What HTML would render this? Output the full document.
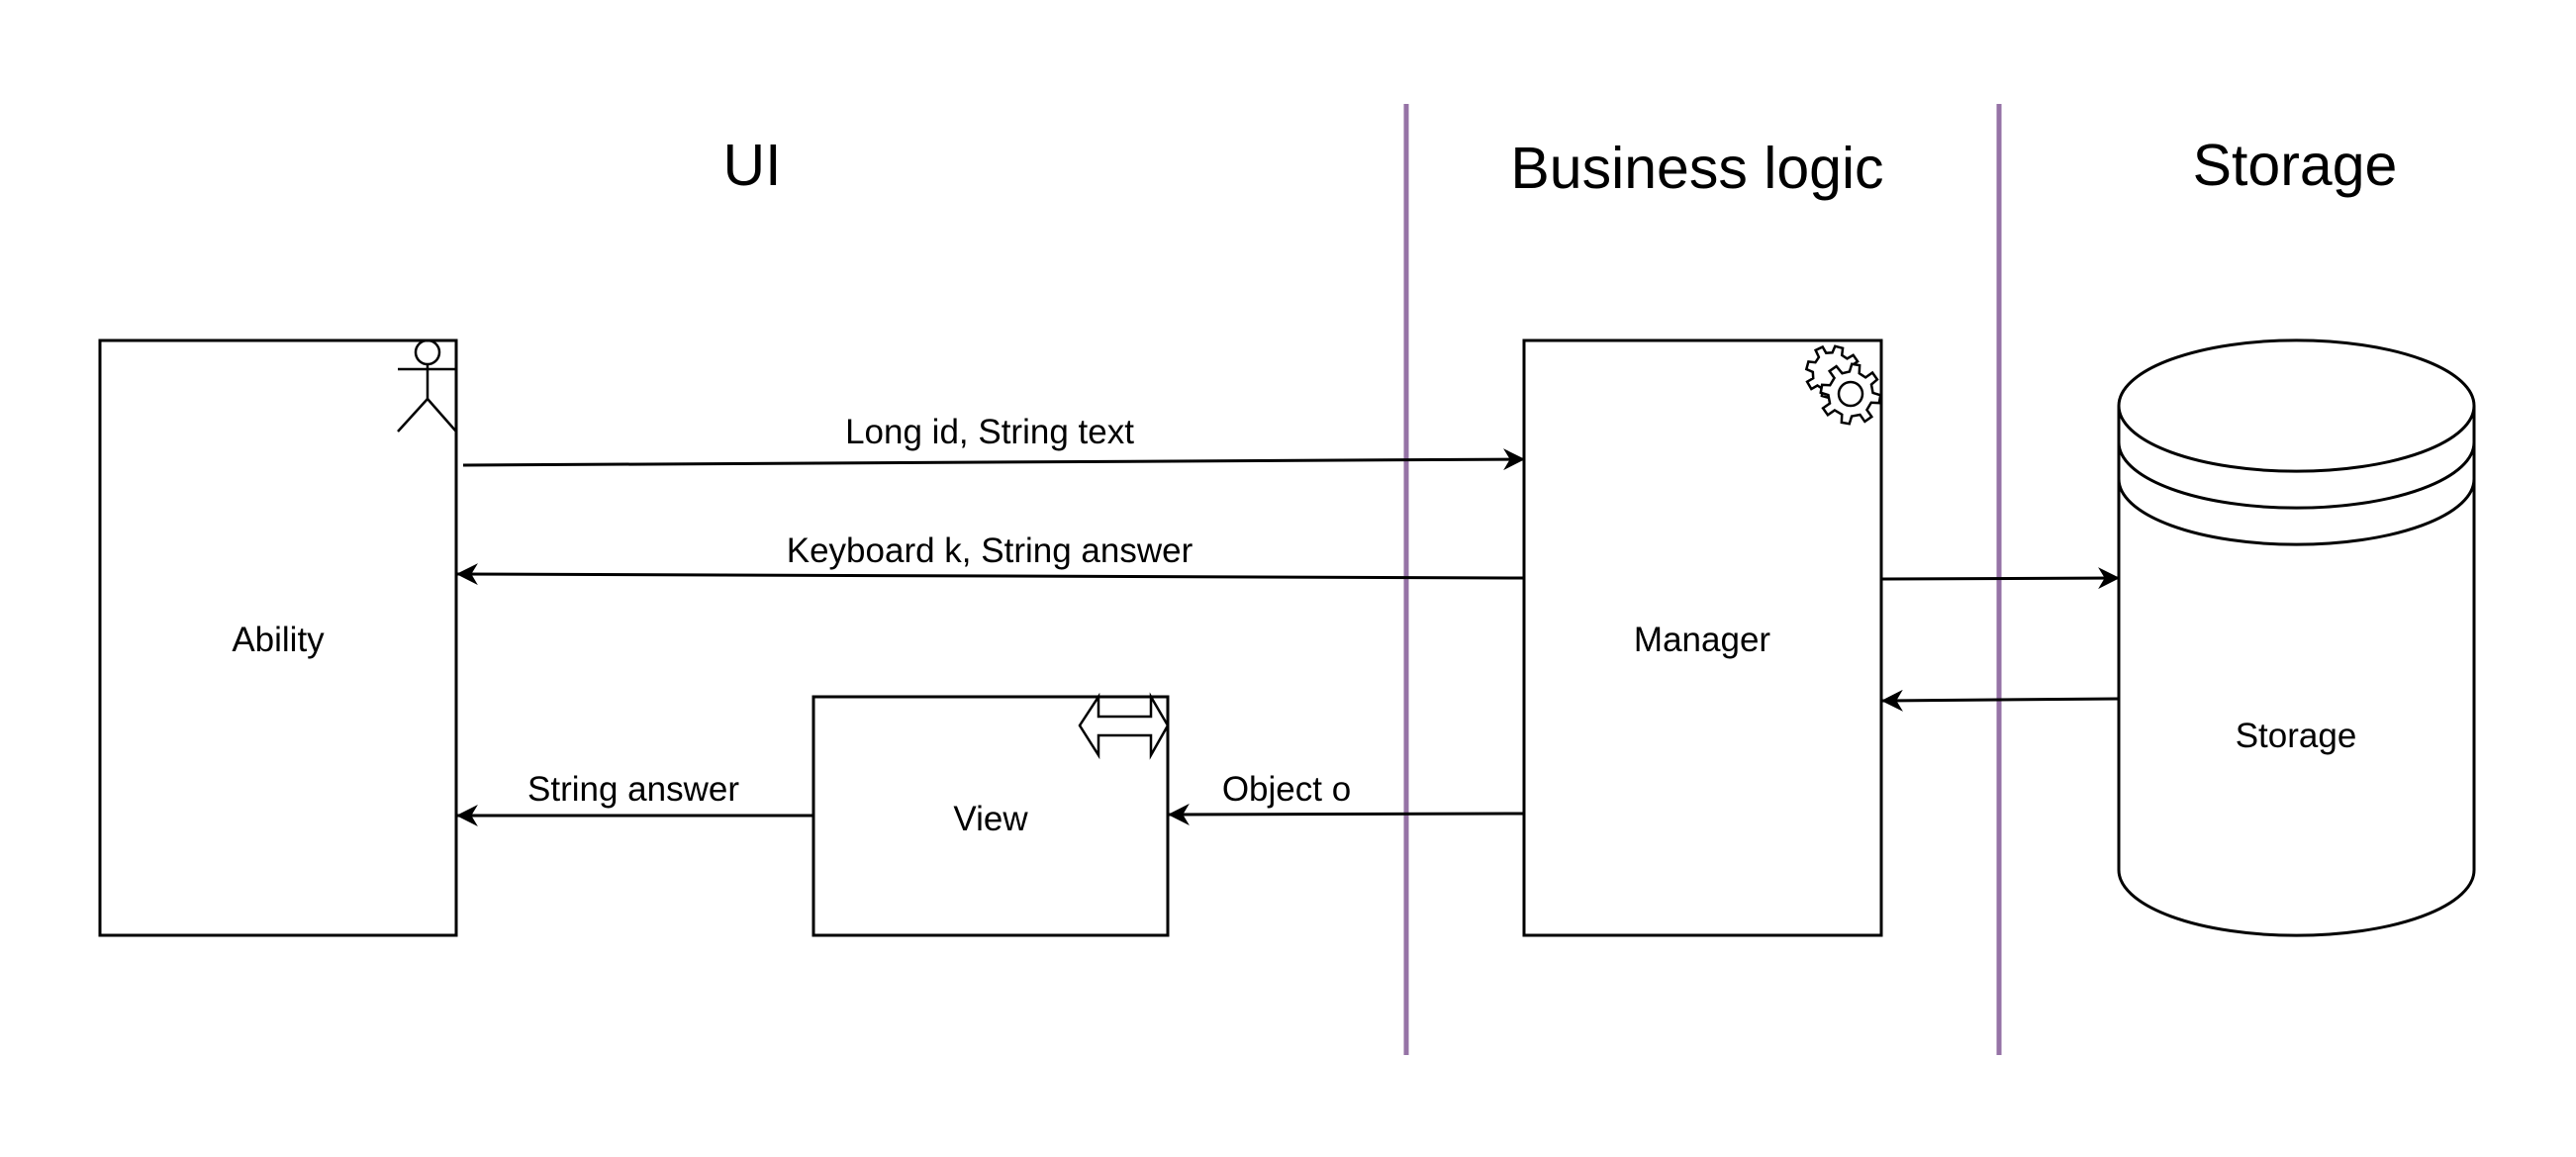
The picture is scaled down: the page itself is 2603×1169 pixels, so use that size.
<!DOCTYPE html>
<html><head><meta charset="utf-8"><style>
html,body{margin:0;padding:0;background:#fff;}
svg{display:block;}
text{font-family:"Liberation Sans",Arial,sans-serif;fill:#000;}
</style></head><body>
<svg width="2603" height="1169" viewBox="0 0 2603 1169" xmlns="http://www.w3.org/2000/svg">
<defs>
<marker id="ar" viewBox="0 0 20 20" refX="19" refY="10" markerWidth="22" markerHeight="22" markerUnits="userSpaceOnUse" orient="auto">
<path d="M0,0 L20,10 L0,20 L6,10 Z" fill="#000"/>
</marker>
</defs>
<line x1="1421" y1="105" x2="1421" y2="1066" stroke="#9673A6" stroke-width="5"/>
<line x1="2020" y1="105" x2="2020" y2="1066" stroke="#9673A6" stroke-width="5"/>
<text x="760" y="187" font-size="59" text-anchor="middle" fill="#222">UI</text>
<text x="1715" y="190" font-size="59" text-anchor="middle" fill="#222">Business logic</text>
<text x="2319" y="187" font-size="59" text-anchor="middle">Storage</text>

<g fill="none" stroke="#000" stroke-width="3">
<rect x="101" y="344" width="360" height="601" fill="#fff"/>
<rect x="822" y="704" width="358" height="241" fill="#fff"/>
<rect x="1540" y="344" width="361" height="601" fill="#fff"/>
<path d="M2141,410 A179,66 0 0 1 2500,410 L2500,879 A179,66 0 0 1 2141,879 Z" fill="#fff"/>
<path d="M2141,410 A179,66 0 0 0 2500,410"/>
<path d="M2141,447 A179,66 0 0 0 2500,447"/>
<path d="M2141,484 A179,66 0 0 0 2500,484"/>
</g>

<g fill="none" stroke="#000" stroke-width="2.5">
<circle cx="432" cy="356" r="12"/>
<line x1="432" y1="368" x2="432" y2="403"/>
<line x1="402" y1="373" x2="461" y2="373"/>
<line x1="432" y1="403" x2="402" y2="436"/>
<line x1="432" y1="403" x2="461" y2="436"/>
</g>

<path d="M1110,704 L1110,724 L1163,724 L1163,704 L1180,733 L1163,763 L1163,743 L1110,743 L1110,763 L1091,733 Z" fill="#fff" stroke="#000" stroke-width="2.5"/>

<g fill="#fff" stroke="#000" stroke-width="2.5" stroke-linejoin="miter">
<g transform="translate(1852,374)">
<path d="M-4,-24 L4,-24 L5,-17 L11,-15 L16,-20 L22,-15 L17,-9 L19,-3 L26,-2 L26,6 L19,7 L17,13 L22,18 L16,24 L10,19 L5,21 L4,28 L-4,28 L-5,21 L-11,19 L-16,24 L-22,18 L-17,13 L-19,7 L-26,6 L-26,-2 L-19,-3 L-17,-9 L-22,-15 L-16,-20 L-11,-15 L-5,-17 Z" transform="rotate(15)"/>
</g>
<g transform="translate(1870,398)">
<path d="M-4,-30 L4,-30 L5,-22 L12,-19 L18,-25 L24,-19 L19,-13 L22,-5 L30,-4 L30,4 L22,5 L19,13 L25,19 L19,25 L13,19 L5,22 L4,30 L-4,30 L-5,22 L-13,19 L-19,25 L-25,19 L-19,13 L-22,5 L-30,4 L-30,-4 L-22,-5 L-19,-13 L-25,-19 L-19,-25 L-12,-19 L-5,-22 Z" transform="rotate(10)"/>
<circle cx="0" cy="0" r="12" fill="none"/>
</g>
</g>

<g stroke="#000" stroke-width="3" fill="none" marker-end="url(#ar)">
<line x1="468" y1="470" x2="1540" y2="464"/>
<line x1="1540" y1="584" x2="462" y2="580"/>
<line x1="822" y1="824" x2="462" y2="824"/>
<line x1="1540" y1="822" x2="1181" y2="823"/>
<line x1="1901" y1="585" x2="2141" y2="584"/>
<line x1="2141" y1="706" x2="1902" y2="708"/>
</g>

<text x="1000" y="448" font-size="35" text-anchor="middle">Long id, String text</text>
<text x="1000" y="568" font-size="35" text-anchor="middle">Keyboard k, String answer</text>
<text x="640" y="809" font-size="35" text-anchor="middle">String answer</text>
<text x="1300" y="809" font-size="35" text-anchor="middle">Object o</text>

<text x="281" y="658" font-size="35" text-anchor="middle">Ability</text>
<text x="1001" y="839" font-size="35" text-anchor="middle">View</text>
<text x="1720" y="658" font-size="35" text-anchor="middle">Manager</text>
<text x="2320" y="755" font-size="35" text-anchor="middle">Storage</text>
</svg>
</body></html>
